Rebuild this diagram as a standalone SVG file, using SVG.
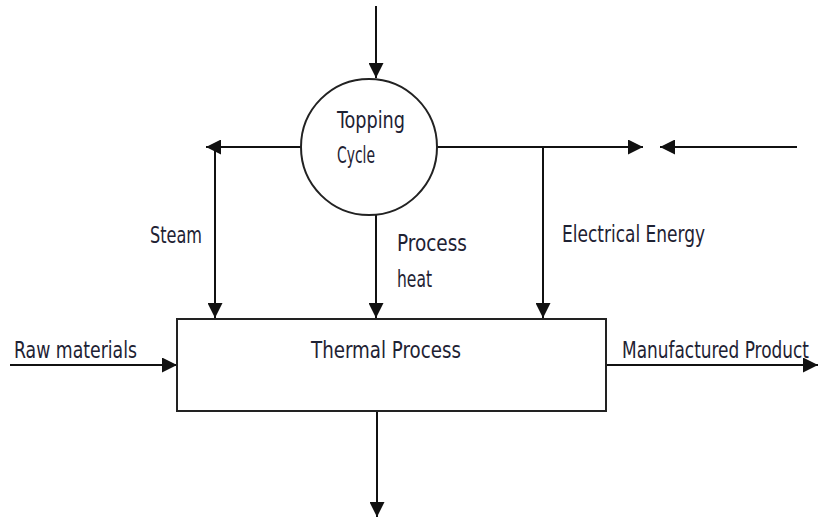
<svg xmlns="http://www.w3.org/2000/svg" width="818" height="519" viewBox="0 0 818 519">
<defs>
<style>
.ln{stroke:#111;stroke-width:2;fill:none}
.nd{stroke:#222;stroke-width:2;fill:#fff}
.t{font-family:"DejaVu Sans Condensed","Liberation Sans Narrow","Liberation Sans",sans-serif;font-stretch:condensed;font-size:23px;fill:#1e2233}
</style>
<marker id="ab" viewBox="0 0 10 10" refX="10" refY="5" markerWidth="15" markerHeight="15" markerUnits="userSpaceOnUse" orient="auto">
<path d="M0,0L10,5L0,10z" fill="#111"/>
</marker>
</defs>
<rect width="818" height="519" fill="#fff"/>
<g id="connectors">
<line class="ln" x1="376" y1="6" x2="376" y2="78" marker-end="url(#ab)"/>
<line class="ln" x1="301" y1="147" x2="206" y2="147" marker-end="url(#ab)"/>
<line class="ln" x1="215" y1="147" x2="215" y2="318" marker-end="url(#ab)"/>
<line class="ln" x1="376" y1="215" x2="376" y2="318" marker-end="url(#ab)"/>
<line class="ln" x1="437" y1="147" x2="643" y2="147" marker-end="url(#ab)"/>
<line class="ln" x1="797" y1="147" x2="660" y2="147" marker-end="url(#ab)"/>
<line class="ln" x1="543" y1="147" x2="543" y2="318" marker-end="url(#ab)"/>
<line class="ln" x1="10" y1="365" x2="177" y2="365" marker-end="url(#ab)"/>
<line class="ln" x1="606" y1="365" x2="818" y2="365" marker-end="url(#ab)"/>
<line class="ln" x1="377" y1="411" x2="377" y2="517" marker-end="url(#ab)"/>
</g>
<g id="topping-cycle">
<circle class="nd" cx="369" cy="147" r="68"/>
<text class="t" x="337" y="128" textLength="68" lengthAdjust="spacingAndGlyphs">Topping</text>
<text class="t" x="337" y="163" textLength="38" lengthAdjust="spacingAndGlyphs">Cycle</text>
</g>
<g id="thermal-process">
<rect class="nd" x="177" y="319" width="429" height="92"/>
<text class="t" x="311" y="358" textLength="150" lengthAdjust="spacingAndGlyphs">Thermal Process</text>
</g>
<g id="labels">
<text class="t" x="150" y="243" textLength="52" lengthAdjust="spacingAndGlyphs">Steam</text>
<text class="t" x="397" y="251" textLength="70" lengthAdjust="spacingAndGlyphs">Process</text>
<text class="t" x="397" y="287" textLength="35" lengthAdjust="spacingAndGlyphs">heat</text>
<text class="t" x="562" y="242" textLength="143" lengthAdjust="spacingAndGlyphs">Electrical Energy</text>
<text class="t" x="14" y="358" textLength="123" lengthAdjust="spacingAndGlyphs">Raw materials</text>
<text class="t" x="622" y="358" textLength="187" lengthAdjust="spacingAndGlyphs">Manufactured Product</text>
</g>
</svg>
